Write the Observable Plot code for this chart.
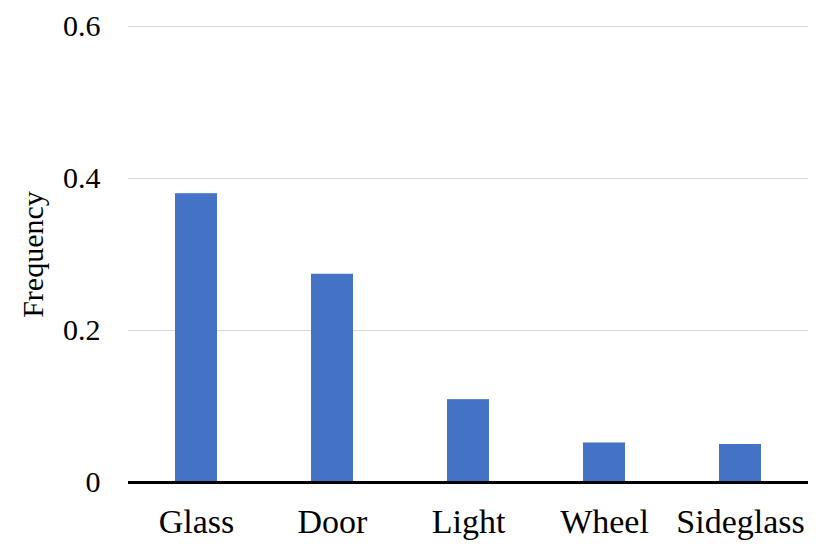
<!DOCTYPE html>
<html>
<head>
<meta charset="utf-8">
<script src="https://cdn.jsdelivr.net/npm/d3@7"></script>
<script src="https://cdn.jsdelivr.net/npm/@observablehq/plot@0.6"></script>
<style>
  html, body { margin: 0; padding: 0; background: #fff; }
  #chart svg { display: block; }
</style>
</head>
<body>
<div id="chart"></div>
<script>
const categories = ["Glass", "Door", "Light", "Wheel", "Sideglass"];
const frequencies = [0.380, 0.274, 0.109, 0.052, 0.050];
const yTicks = [0, 0.2, 0.4, 0.6];
const gridValues = [0.2, 0.4, 0.6];
const yLabel = "Frequency";

const data = categories.map((c, i) => ({category: c, value: frequencies[i]}));
const serif = "Liberation Serif";

const chart = Plot.plot({
  width: 830,
  height: 554,
  marginLeft: 128,
  marginRight: 22,
  marginTop: 26,
  marginBottom: 72,
  style: {fontFamily: serif, background: "#fff", color: "#000"},
  x: {domain: categories, paddingInner: 0.69, paddingOuter: 0.345, label: null},
  y: {domain: [0, 0.6], label: null},
  marks: [
    Plot.ruleY(gridValues, {stroke: "#d9d9d9", strokeWidth: 1}),
    Plot.barY(data, {x: "category", y: "value", fill: "#4472C4"}),
    Plot.ruleY([0], {stroke: "#000", strokeWidth: 3}),
    Plot.axisY({ticks: yTicks, tickSize: 0, tickPadding: 28, fontSize: 30, fontFamily: serif,
      tickFormat: d => d === 0 ? "0" : d.toFixed(1), label: null}),
    Plot.axisX({tickSize: 0, tickPadding: 26, fontSize: 34, fontFamily: serif, label: null}),
    Plot.text([yLabel], {frameAnchor: "left", rotate: -90, dx: -95, fontSize: 30, fontFamily: serif,
      text: d => d, textAnchor: "middle", lineAnchor: "middle"})
  ]
});
document.getElementById("chart").appendChild(chart);
</script>
</body>
</html>
